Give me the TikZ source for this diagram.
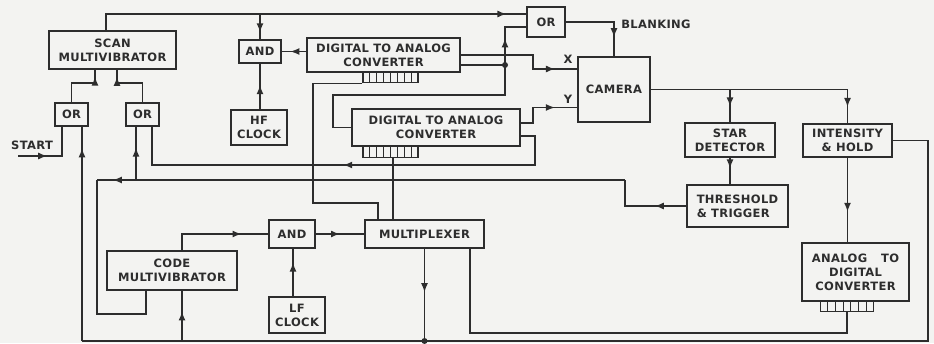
\documentclass[tikz,border=0pt]{standalone}
\usepackage{fontspec}
\setmainfont{DejaVu Sans}
\newfontfamily\lab[LetterSpace=3]{DejaVu Sans Bold}
\usetikzlibrary{arrows.meta,decorations.markings,calc}
\definecolor{bg}{RGB}{243,243,241}
\definecolor{ink}{RGB}{45,45,45}
\tikzset{
  box/.style={draw=ink, line width=1.8pt, inner sep=0pt, align=center, text=ink,
    font=\lab\fontsize{11.5}{14}\selectfont},
  pinrow/.style={draw=ink, line width=1.4pt, inner sep=0pt},
  wire/.style={color=ink, line width=1.5pt},
  ar/.style={postaction={decorate}, decoration={markings,
      mark=at position #1 with {\arrow{Latex[length=9pt,width=7pt]}}}},
  ar/.default=0.5,
  lbl/.style={text=ink, inner sep=0pt, font=\lab\fontsize{11.5}{14}\selectfont},
  jdot/.style={circle, fill=ink, inner sep=0pt, minimum size=6pt},
}
\newcommand\pinsrow[2]{%
  \foreach \k in {1,...,#2}{%
    \pgfmathsetmacro\ff{\k/(#2+1)}%
    \draw[ink, line width=1.1pt] ($(#1.north west)!\ff!(#1.north east)$) -- ($(#1.south west)!\ff!(#1.south east)$);}}
\begin{document}
\begin{tikzpicture}[x=1pt,y=-1pt]
\fill[bg] (0,0) rectangle (934,343);
\useasboundingbox (0,0) rectangle (934,343);

% boxes
\node[box, minimum width=127pt, minimum height=38pt] (scan) at (112.5,50) {SCAN\\MULTIVIBRATOR};
\node[box, minimum width=33pt, minimum height=23pt] (or1) at (71.5,114.5) {OR};
\node[box, minimum width=33pt, minimum height=23pt] (or2) at (142.5,114.5) {OR};
\node[box, minimum width=42pt, minimum height=23pt] (and1) at (260,51.5) {AND};
\node[box, minimum width=56pt, minimum height=35pt] (hf) at (259,127.5) {HF\\CLOCK};
\node[box, minimum width=153pt, minimum height=34pt] (dac1) at (383.5,55) {DIGITAL TO ANALOG\\CONVERTER};
\node[pinrow, minimum width=55pt, minimum height=10pt, anchor=north] (pins1) at (390.5,72) {};
\node[box, minimum width=38pt, minimum height=30pt] (ortop) at (546,22) {OR};
\node[box, minimum width=72pt, minimum height=65pt] (cam) at (614,89.5) {CAMERA};
\node[box, minimum width=168pt, minimum height=37pt] (dac2) at (436,127.5) {DIGITAL TO ANALOG\\CONVERTER};
\node[pinrow, minimum width=55pt, minimum height=11pt, anchor=north] (pins2) at (390.5,146) {};
\node[box, minimum width=90pt, minimum height=34pt] (star) at (730,140) {STAR\\DETECTOR};
\node[box, minimum width=89pt, minimum height=33pt] (ih) at (847.5,140.5) {INTENSITY\\\& HOLD};
\node[box, minimum width=101pt, minimum height=42pt, align=left] (thr) at (737.5,206) {THRESHOLD\\\& TRIGGER};
\node[box, minimum width=107pt, minimum height=58pt] (adc) at (855.5,272) {ANALOG\hspace{1.2em}TO\\DIGITAL\\CONVERTER};
\node[pinrow, minimum width=53pt, minimum height=10pt, anchor=north] (pins3) at (847,301) {};
\node[box, minimum width=46pt, minimum height=28pt] (and2) at (292,234) {AND};
\node[box, minimum width=130pt, minimum height=39pt] (code) at (172,270.5) {CODE\\MULTIVIBRATOR};
\node[box, minimum width=56pt, minimum height=36pt] (lf) at (297,315) {LF\\CLOCK};
\node[box, minimum width=119pt, minimum height=28pt] (mux) at (424.5,234) {MULTIPLEXER};
\pinsrow{pins1}{7}
\pinsrow{pins2}{7}
\pinsrow{pins3}{6}

% labels
\node[lbl] (start) at (32,145) {START};
\node[lbl] (blank) at (656,24) {BLANKING};
\node[lbl] (xl) at (568,59) {X};
\node[lbl] (yl) at (568,99) {Y};

% coordinates
\coordinate (orA) at ([yshift=8pt]ortop.west);
\coordinate (orB) at ([yshift=-5pt]ortop.west);
\coordinate (st) at (18,156);
\coordinate (busR) at (928,341);
\coordinate (busL) at (82,341);
\coordinate (t1) at (625,180);
\coordinate (t2) at (97,180);
\coordinate (j2) at (136,180);
\coordinate (m1) at (470,333);
\coordinate (j1) at (505,65);

% connectors
\draw[wire, ar=0.955] ([xshift=-6.5pt]scan.north) |- (orA);
\draw[wire, ar=0.73] (and1.north |- orA) -- (and1.north);
\draw[wire, ar=0.65] (dac1.west |- and1.east) -- (and1.east);
\draw[wire, ar=0.53] (and1.south |- hf.north) -- (and1.south);
\draw[wire, ar=0.88] (or1.north) -- ++(0,-19) -| ([xshift=-17.5pt]scan.south);
\draw[wire, ar=0.88] (or2.north) -- ++(0,-19) -| ([xshift=4.5pt]scan.south);
\draw[wire, ar=0.4] (st) -| ([xshift=-9.5pt]or1.south);

\draw[wire] (ih.east) -| (busR) -- (busL);
\draw[wire, ar=0.9] (busL) -- (busL |- or1.south);
\draw[wire, ar=0.47] (mux.south) -- (mux.south |- busL);
\node[jdot] (d2) at (mux.south |- busL) {};
\draw[wire, ar=0.59] ([xshift=10pt]code.south |- busL) -- ([xshift=10pt]code.south);

\draw[wire, ar=0.36] (thr.west) -| (t1);
\draw[wire, ar=0.97] (t1) -- (t2);
\draw[wire] (t2) |- (146,314) -- ([xshift=-26pt]code.south);
\draw[wire, ar=0.61] (j2) -- (j2 |- or2.south);

\draw[wire, ar=0.506] ([yshift=-8.5pt]dac2.east) -| (535,165) -| ([xshift=9.5pt]or2.south);

\draw[wire, ar=0.74] ([xshift=10pt]code.north) |- (and2.west);
\draw[wire, ar=0.71] ([xshift=1pt]and2.south |- lf.north) -- ([xshift=1pt]and2.south);
\draw[wire, ar=0.5] (and2.east) -- (mux.west);

\draw[wire] (pins1.south west) -| (313,203) -| ([xshift=-46.5pt]mux.north);
\draw[wire] ([xshift=2.5pt]pins2.south) -- ([xshift=2.5pt]pins2.south |- mux.north);
\draw[wire] (pins3.south) |- (m1) -- (m1 |- mux.south);

\draw[wire, ar=0.83] (dac1.east) -| (533,62) |- ([yshift=20.5pt]cam.west);
\draw[wire] ([yshift=-10pt]dac1.east) -- (j1);
\draw[wire, ar=0.45] (j1) |- (orB);
\draw[wire] (j1) |- (333,95) |- (dac2.west);
\node[jdot] (d1) at (j1) {};
\draw[wire, ar=0.69] ([yshift=4.5pt]dac2.east) -| (533,115) |- ([yshift=-18pt]cam.west);

\draw[wire, ar=0.77] (ortop.east) -| (cam.north);
\draw[wire, ar=0.93] (cam.east) -| (ih.north);
\draw[wire, ar=0.52] (star.north |- cam.east) -- (star.north);
\draw[wire, ar=0.4] (star.south) -- (star.south |- thr.north);
\draw[wire, ar=0.64] (ih.south) -- (ih.south |- adc.north);
\end{tikzpicture}
\end{document}
